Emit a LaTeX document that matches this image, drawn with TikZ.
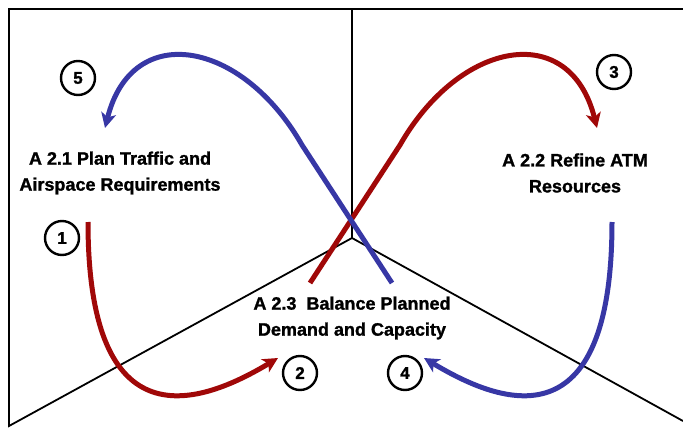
\documentclass[tikz,border=0pt]{standalone}
\usepackage{fontspec}
\setmainfont{Liberation Sans}[BoldFeatures={FakeBold=1.3}]
\usetikzlibrary{arrows.meta}
\definecolor{cred}{RGB}{160,8,8}
\definecolor{cblue}{RGB}{55,55,165}
\tikzset{
  frame/.style={line width=1.8pt, black},
  loopred/.style={line width=5pt, cred, -{Stealth[length=15pt,width=15pt,inset=4pt]}},
  loopblue/.style={line width=5pt, cblue, -{Stealth[length=15pt,width=15pt,inset=4pt]}},
  label/.style={font=\bfseries\fontsize{18}{26}\selectfont, align=center, inner sep=0pt},
  num/.style={circle, draw, line width=2.4pt, minimum size=34pt, inner sep=0pt, font=\bfseries\fontsize{17}{17}\selectfont}
}
\begin{document}
\begin{tikzpicture}[x=1pt,y=-1pt]
\useasboundingbox (0,0) rectangle (683,428);
% frame
\coordinate (tl) at (9,9);
\coordinate (tr) at (683,9);
\coordinate (tc) at (352,9);
\coordinate (mid) at (352,238);
\coordinate (bl) at (9,426);
\coordinate (br) at (683,421);
\draw[frame] (tr) -- (tl) -- (bl) -- (mid) -- (br);
\draw[frame] (tc) -- (mid);
% labels
\node[label] (t1) at (120,173) {A 2.1 Plan Traffic and\\Airspace Requirements};
\node[label] (t2) at (575,173) {A 2.2 Refine ATM\\Resources};
\node[label] (t3) at (352,318) {A 2.3~~Balance Planned\\Demand and Capacity};
% numbers
\node[num] (c1) at (62,238) {1};
\node[num] (c2) at (300,373) {2};
\node[num] (c3) at (614,72) {3};
\node[num] (c4) at (405,373) {4};
\node[num] (c5) at (78,78) {5};
% curve end points
\coordinate (r1s) at (88,222);
\coordinate (r1e) at (278,358);
\coordinate (b1s) at (612,222);
\coordinate (b1e) at (424,358);
\coordinate (r2s) at (310,283);
\coordinate (r2m) at (400,145);
\coordinate (r2e) at (597,128);
\coordinate (b2s) at (392,283);
\coordinate (b2m) at (302,145);
\coordinate (b2e) at (105,128);
% loops
\draw[loopred] (r1s) .. controls (88,445) and (200,405) .. (r1e);
\draw[loopblue] (b1s) .. controls (612,445) and (502,405) .. (b1e);
\draw[loopred] (r2s) -- (r2m) .. controls (460,40) and (570,20) .. (r2e);
\draw[loopblue] (b2s) -- (b2m) .. controls (242,40) and (132,20) .. (b2e);
\end{tikzpicture}
\end{document}
